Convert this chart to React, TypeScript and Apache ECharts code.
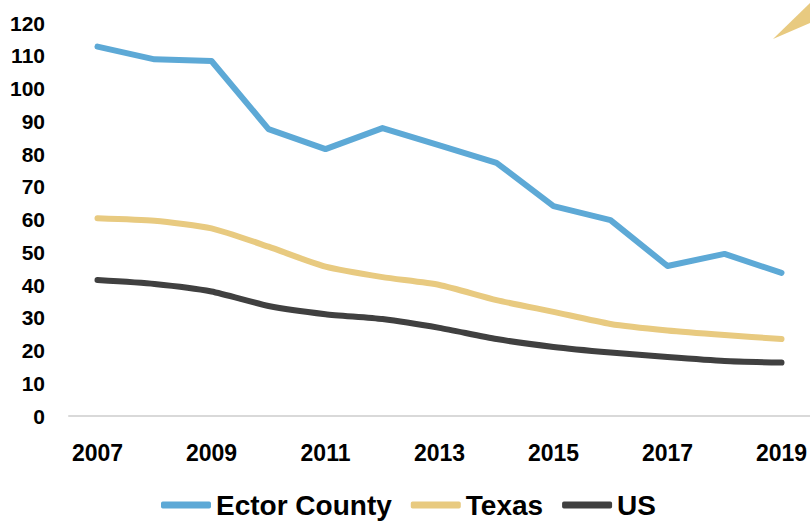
import React, { useEffect, useRef } from "react";
import * as echarts from "echarts";

const years = ["2007", "2008", "2009", "2010", "2011", "2012", "2013", "2014", "2015", "2016", "2017", "2018", "2019"];
const ectorCounty = [112.8, 108.9, 108.4, 87.6, 81.5, 87.9, 82.6, 77.3, 64.1, 59.8, 45.8, 49.5, 43.7];
const texas = [60.4, 59.6, 57.3, 51.7, 45.6, 42.4, 40.0, 35.4, 31.8, 28.1, 26.1, 24.7, 23.5];
const us = [41.5, 40.3, 38.0, 33.6, 31.1, 29.6, 26.9, 23.5, 21.1, 19.4, 18.0, 16.8, 16.3];

const FONT = "'Liberation Sans', Arial, sans-serif";
const BLUE = "#5DA9D6";
const GOLD = "#E8CA80";
const DARK = "#404040";

export default function App() {
  const ref = useRef<HTMLDivElement>(null);
  useEffect(() => {
    if (!ref.current) return;
    const chart = echarts.init(ref.current, null, { renderer: "svg" });
    const mk = (name: string, data: number[], color: string, smooth: number | boolean) => ({
      name,
      type: "line",
      data,
      smooth,
      symbol: "none",
      lineStyle: { color, width: 6, cap: "round", join: "round" },
      itemStyle: { color },
    });
    chart.setOption({
      animation: false,
      backgroundColor: "#ffffff",
      grid: { left: 69, right: -7, top: 23, bottom: 105, containLabel: false },
      xAxis: {
        type: "category",
        data: years,
        boundaryGap: true,
        axisLine: { show: true, lineStyle: { color: "#D9D9D9", width: 2 } },
        axisTick: { show: false },
        axisLabel: {
          interval: 1,
          margin: 25,
          color: "#000",
          fontFamily: FONT,
          fontWeight: "bold",
          fontSize: 23,
        },
        splitLine: { show: false },
      },
      yAxis: {
        type: "value",
        min: 0,
        max: 120,
        interval: 10,
        axisLine: { show: false },
        axisTick: { show: false },
        splitLine: { show: false },
        axisLabel: {
          margin: 24,
          color: "#000",
          fontFamily: FONT,
          fontWeight: "bold",
          fontSize: 21,
        },
      },
      legend: {
        left: 161,
        top: 490,
        padding: 0,
        itemWidth: 50,
        itemHeight: 7,
        itemGap: 19,
        icon: "roundRect",
        textStyle: { color: "#000", fontFamily: FONT, fontWeight: "bold", fontSize: 28, lineHeight: 30 },
        data: ["Ector County", "Texas", "US"],
      },
      series: [mk("Ector County", ectorCounty, BLUE, false), mk("Texas", texas, GOLD, 0.2), mk("US", us, DARK, 0.2)],
      graphic: [
        {
          type: "polygon",
          shape: { points: [[773, 39], [810, 3], [810, 23]] },
          style: { fill: GOLD },
        },
      ],
    });
    return () => chart.dispose();
  }, []);
  return (
    <div
      ref={ref}
      style={{ position: "fixed", left: 0, top: 0, width: 810, height: 521, background: "#fff" }}
    />
  );
}
